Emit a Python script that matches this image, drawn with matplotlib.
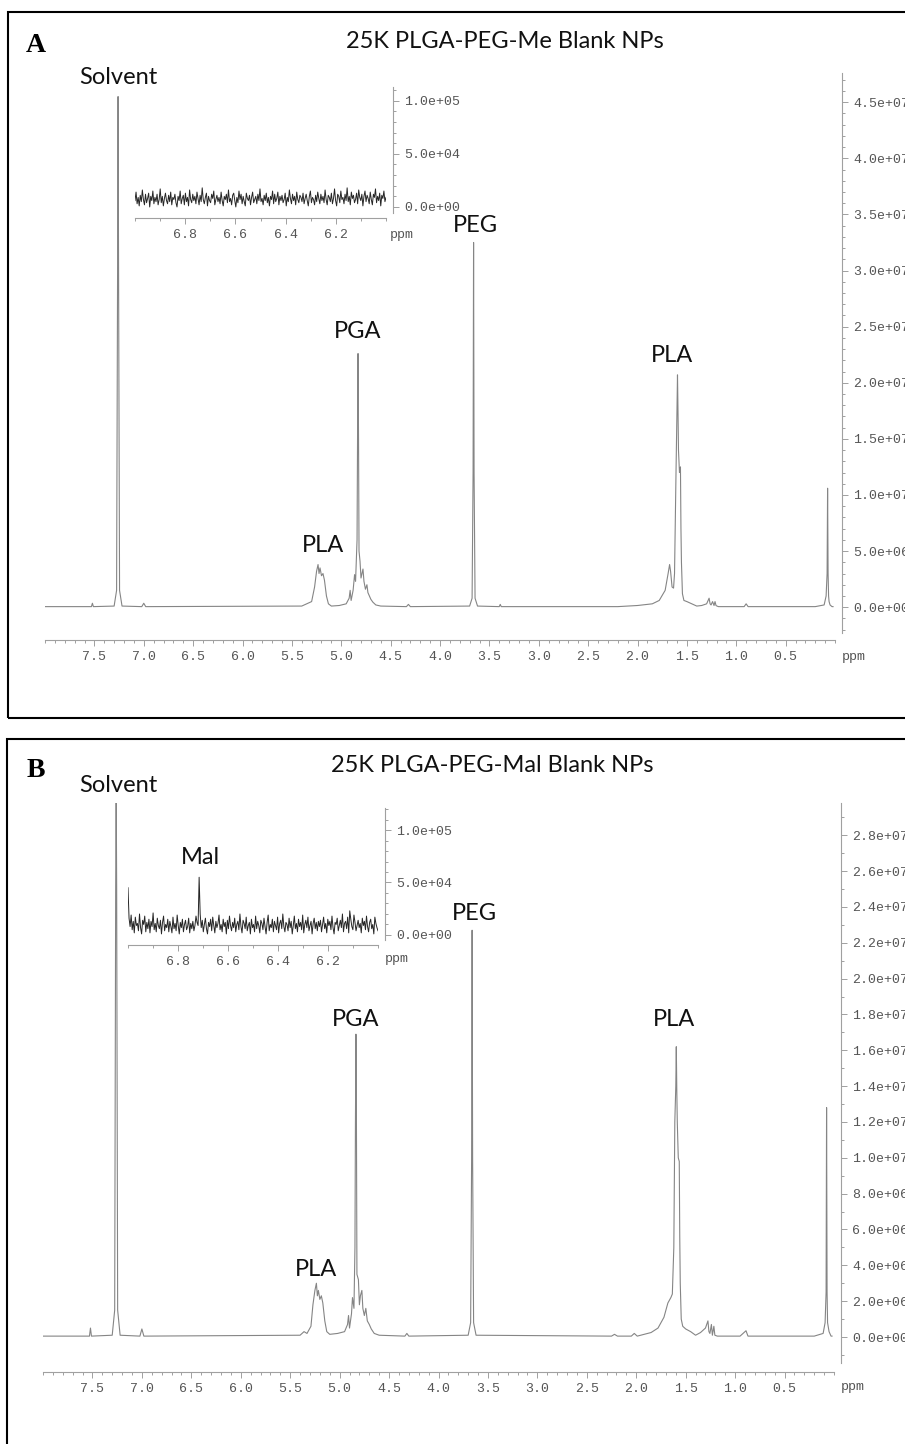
import numpy as np
import matplotlib
matplotlib.use("Agg")
import matplotlib.pyplot as plt
from matplotlib.patches import Rectangle
from matplotlib.ticker import MultipleLocator, FuncFormatter

# Figure size in pixels
W, H = 905, 1444

# ---- Panel A: 25K PLGA-PEG-Me, main spectrum (ppm, intensity in 1e6) ----
shift_a = [8.00, 7.60, 7.53, 7.52, 7.51,
           7.30, 7.275, 7.265, 7.26, 7.255, 7.245, 7.22,
           7.02, 7.00, 6.98,
           5.40, 5.30, 5.27, 5.25, 5.235, 5.225, 5.215, 5.20, 5.185, 5.17, 5.15, 5.13, 5.10,
           5.02, 4.95, 4.92, 4.91, 4.90, 4.88, 4.865, 4.855, 4.84, 4.835, 4.83, 4.825, 4.82,
           4.81, 4.80, 4.79, 4.78, 4.77, 4.755, 4.74, 4.73, 4.72, 4.70, 4.68, 4.65, 4.60,
           4.34, 4.32, 4.30,
           3.70, 3.675, 3.665, 3.66, 3.655, 3.645, 3.62,
           3.40, 3.39, 3.38,
           2.20, 2.00, 1.85, 1.78, 1.72, 1.69, 1.675, 1.665, 1.65, 1.635, 1.625,
           1.61, 1.60, 1.595, 1.59, 1.585, 1.575, 1.57, 1.565, 1.56, 1.555, 1.545, 1.53,
           1.50, 1.45, 1.40, 1.35, 1.30, 1.275, 1.265, 1.255, 1.24, 1.225, 1.215, 1.205,
           1.195, 1.18, 1.10, 0.92, 0.90, 0.88, 0.80, 0.20,
           0.11, 0.09, 0.08, 0.075, 0.07, 0.065, 0.06, 0.05, 0.03, 0.02]
inten_a = [0.05, 0.05, 0.05, 0.35, 0.05,
           0.1, 1.5, 30, 45.5, 30, 1.5, 0.1,
           0.05, 0.35, 0.05,
           0.1, 0.5, 1.8, 3.2, 3.8, 3.0, 3.5, 2.8, 3.0, 2.4, 1.0, 0.3, 0.1,
           0.15, 0.3, 0.8, 1.5, 0.6, 1.5, 2.9, 2.3, 6.0, 15, 22.6, 15, 5.0,
           4.1, 2.6, 3.0, 3.4, 2.3, 1.6, 2.0, 1.3, 1.1, 0.7, 0.45, 0.2, 0.1,
           0.05, 0.25, 0.05,
           0.1, 0.8, 12, 32.5, 12, 0.8, 0.1,
           0.05, 0.25, 0.05,
           0.05, 0.15, 0.3, 0.6, 1.5, 3.0, 3.8, 3.2, 1.8, 1.7, 3.0,
           12, 17.7, 20.7, 17.5, 14, 12, 12.2, 12.5, 7.0, 4.0, 1.2, 0.6,
           0.5, 0.3, 0.1, 0.15, 0.3, 0.8, 0.3, 0.2, 0.5, 0.15, 0.5, 0.15,
           0.1, 0.05, 0.05, 0.05, 0.3, 0.05, 0.05, 0.05,
           0.2, 1.0, 3.0, 10.6, 3.0, 1.0, 0.5, 0.2, 0.05, 0.05]

# ---- Panel B: 25K PLGA-PEG-Mal, main spectrum (ppm, intensity in 1e6) ----
shift_b = [8.00, 7.60, 7.53, 7.52, 7.51,
           7.30, 7.275, 7.265, 7.26, 7.255, 7.245, 7.22,
           7.02, 7.00, 6.98,
           5.40, 5.36, 5.33, 5.29, 5.27, 5.25, 5.235, 5.225, 5.215, 5.20, 5.185, 5.17, 5.15, 5.13, 5.10,
           5.02, 4.95, 4.92, 4.91, 4.90, 4.88, 4.87, 4.855, 4.845, 4.84, 4.835, 4.83, 4.825,
           4.81, 4.80, 4.79, 4.775, 4.765, 4.75, 4.735, 4.72, 4.70, 4.68, 4.65, 4.60,
           4.34, 4.32, 4.30,
           3.70, 3.675, 3.665, 3.66, 3.655, 3.645, 3.62,
           2.25, 2.22, 2.19, 2.05, 2.02, 1.99,
           1.85, 1.78, 1.72, 1.68, 1.65, 1.635, 1.62,
           1.61, 1.60, 1.595, 1.59, 1.585, 1.575, 1.565, 1.56, 1.555, 1.545, 1.53,
           1.50, 1.45, 1.40, 1.35, 1.30, 1.275, 1.265, 1.255, 1.24, 1.23, 1.215, 1.205,
           1.18, 0.95, 0.91, 0.89, 0.87, 0.20,
           0.11, 0.09, 0.08, 0.075, 0.07, 0.065, 0.05, 0.03, 0.02]
inten_b = [0.05, 0.05, 0.05, 0.5, 0.05,
           0.1, 1.5, 25, 31, 25, 1.5, 0.1,
           0.05, 0.45, 0.05,
           0.1, 0.3, 0.2, 0.6, 1.8, 2.6, 3.0, 2.3, 2.6, 2.1, 2.3, 1.9, 0.9, 0.3, 0.15,
           0.2, 0.3, 0.7, 1.2, 0.5, 1.3, 2.2, 1.6, 5.0, 12, 16.9, 12, 3.5,
           3.2, 1.8, 2.3, 2.6, 1.6, 1.2, 1.6, 0.9, 0.7, 0.45, 0.2, 0.1,
           0.05, 0.2, 0.05,
           0.1, 0.8, 10, 22.7, 10, 0.8, 0.1,
           0.05, 0.15, 0.05, 0.05, 0.2, 0.05,
           0.25, 0.5, 1.1, 1.9, 2.2, 2.4, 5.0,
           12, 14, 16.2, 13.8, 12, 10.0, 9.8, 5.6, 3.0, 1.0, 0.6,
           0.45, 0.3, 0.1, 0.25, 0.5, 0.9, 0.3, 0.2, 0.7, 0.1, 0.6, 0.1,
           0.05, 0.05, 0.25, 0.35, 0.05, 0.05,
           0.2, 0.8, 2.5, 12.8, 2.5, 0.8, 0.3, 0.05, 0.05]

# ---- Insets: 7.0 -> 6.0 ppm region (intensity in 1e3) ----
noise_a = [6, 14, 3, 9, 1, 11, 5, 16, 7, 2, 12, 4, 8, 13, 0, 10, 6, 15, 3, 9,
           5, 12, 2, 7, 17, 4, 10, 1, 8, 13, 6, 3, 11, 5, 14, 2, 9, 7, 12, 4,
           0, 10, 6, 15, 3, 8, 11, 2, 13, 5, 9, 1, 16, 7, 4, 12, 6, 10, 3, 14,
           8, 2, 11, 5, 18, 7, 3, 9, 13, 1, 10, 6, 4, 12, 8, 15, 2, 7, 11, 5,
           9, 3, 14, 6, 1, 10, 7, 12, 4, 16, 5, 8, 2, 11, 13, 6, 0, 9, 4, 15,
           7, 12, 3, 10, 5, 1, 13, 8, 6, 11, 2, 9, 14, 4, 7, 10, 3, 12, 6, 17,
           5, 8, 2, 11, 6, 13, 4, 9, 1, 10, 7, 15, 3, 12, 5, 8, 14, 2, 10, 6,
           11, 4, 7, 13, 1, 9, 5, 16, 8, 3, 12, 6, 10, 2, 14, 7, 4, 11, 9, 5,
           13, 3, 8, 12, 6, 1, 10, 15, 4, 9, 7, 2, 11, 5, 14, 8, 3, 12, 6, 10,
           4, 16, 7, 2, 11, 9, 5, 13, 3, 8, 17, 6, 1, 12, 10, 4, 15, 7, 9, 3,
           12, 6, 18, 5, 10, 2, 14, 8, 11, 4, 7, 13, 3, 16, 9, 6, 12, 1, 10, 15,
           5, 11, 8, 3, 14, 7, 2, 12, 9, 17, 4, 10, 6, 13, 1, 11, 8, 15, 5, 9]
noise_b = [45, 16, 8, 19, 5, 13, 2, 17, 9, 11, 4, 20, 7, 1, 14, 10, 18, 3, 12, 6,
           15, 2, 13, 8, 21, 5, 11, 3, 16, 9, 6, 14, 1, 12, 18, 4, 10, 7, 15, 3,
           13, 8, 2, 17, 6, 11, 4, 19, 9, 1, 12, 7, 15, 3, 10, 14, 5, 8, 16, 2,
           11, 6, 13, 4, 9, 18, 12, 9, 55, 20, 7, 14, 3, 10, 16, 6, 1, 12, 8, 15,
           4, 17, 9, 2, 13, 7, 11, 19, 5, 10, 3, 15, 8, 12, 1, 14, 6, 18, 9, 4,
           12, 7, 16, 3, 10, 13, 5, 20, 8, 2, 14, 11, 6, 17, 4, 9, 12, 1, 15, 7,
           10, 3, 18, 6, 13, 9, 2, 14, 11, 5, 16, 8, 1, 12, 19, 4, 10, 7, 15, 3,
           13, 9, 5, 17, 2, 11, 14, 6, 20, 8, 3, 12, 10, 4, 16, 7, 13, 1, 9, 18,
           6, 11, 3, 15, 8, 12, 5, 19, 2, 10, 14, 7, 17, 4, 9, 13, 1, 11, 16, 6,
           12, 4, 13, 8, 14, 3, 10, 17, 6, 11, 2, 15, 9, 13, 5, 18, 7, 1, 12, 10,
           16, 4, 9, 14, 7, 20, 3, 11, 13, 6, 17, 2, 23, 15, 8, 5, 19, 12, 4, 9,
           14, 7, 11, 2, 16, 9, 13, 5, 18, 8, 3, 12, 15, 6, 10, 1, 17, 11, 7, 4]

main_ticks = [7.5, 7.0, 6.5, 6.0, 5.5, 5.0, 4.5, 4.0, 3.5, 3.0, 2.5, 2.0, 1.5, 1.0, 0.5]
inset_ticks = [6.8, 6.6, 6.4, 6.2]

MONO = "Liberation Mono"
SANS = "Lato"
TICKC = "#555555"
SPINEC = "#a0a0a0"


def px_rect(x0, y_top, x1, y_bot):
    return [x0 / W, 1 - y_bot / H, (x1 - x0) / W, (y_bot - y_top) / H]


def style_axes(ax, x_out, y_out):
    for s in ["left", "top"]:
        ax.spines[s].set_visible(False)
    for s in ["bottom", "right"]:
        ax.spines[s].set_color(SPINEC)
        ax.spines[s].set_linewidth(0.8)
    ax.spines["bottom"].set_position(("outward", x_out * 0.72))
    ax.spines["right"].set_position(("outward", y_out * 0.72))
    ax.yaxis.tick_right()
    ax.tick_params(which="both", direction="out", color=SPINEC, width=0.7,
                   labelcolor=TICKC, labelsize=9.5)
    ax.tick_params(which="major", length=4.5, pad=3.5)
    ax.tick_params(which="minor", length=2.2)
    for lab in ax.get_xticklabels() + ax.get_yticklabels():
        lab.set_family(MONO)
    ax.yaxis.set_major_formatter(FuncFormatter(lambda v, p: f"{v:.1e}"))
    ax.patch.set_alpha(0)


fig = plt.figure(figsize=(W / 100, H / 100), dpi=100)

# Panel borders
for (x0, yt, x1, yb) in [(8, 12, 930, 718), (7, 739, 930, 1460)]:
    fig.add_artist(Rectangle((x0 / W, 1 - yb / H), (x1 - x0) / W, (yb - yt) / H,
                             transform=fig.transFigure, fill=False,
                             edgecolor="black", linewidth=1.5, clip_on=False))

panels = [
    dict(shift=shift_a, inten=inten_a, rect=(45, 73, 835, 633), ylim=(-2.3e6, 47.6e6),
         ymajor=5e6, xout=7, yout=7,
         inset=(135, 87, 386, 213), iylim=(-5.7e3, 113e3), noise=noise_a,
         ppm_main=(842, 657), ppm_inset=(390, 235)),
    dict(shift=shift_b, inten=inten_b, rect=(43, 803, 834, 1363), ylim=(-1.45e6, 29.8e6),
         ymajor=2e6, xout=9, yout=7,
         inset=(128, 808, 378, 940), iylim=(-4.8e3, 121e3), noise=noise_b,
         ppm_main=(841, 1387), ppm_inset=(385, 959)),
]

for p in panels:
    ax = fig.add_axes(px_rect(*p["rect"]))
    ax.plot(p["shift"], np.array(p["inten"]) * 1e6, color="#858585", lw=0.8)
    ax.set_xlim(8.0, 0.0)
    ax.set_ylim(*p["ylim"])
    ax.set_xticks(main_ticks)
    ax.set_xticklabels([f"{t:.1f}" for t in main_ticks])
    ax.xaxis.set_minor_locator(MultipleLocator(0.1))
    ax.yaxis.set_major_locator(MultipleLocator(p["ymajor"]))
    ax.yaxis.set_minor_locator(MultipleLocator(1e6))
    style_axes(ax, p["xout"], p["yout"])
    x, y = p["ppm_main"]
    fig.text(x / W, 1 - y / H, "ppm", family=MONO, size=9.5, color=TICKC,
             ha="left", va="center")

    # inset: evenly spaced ppm samples across 7.0 -> 6.0
    ix = np.linspace(7.0, 6.0, len(p["noise"]))
    ins = fig.add_axes(px_rect(*p["inset"]))
    ins.plot(ix, np.array(p["noise"]) * 1e3, color="#262626", lw=0.7)
    ins.set_xlim(7.0, 6.0)
    ins.set_ylim(*p["iylim"])
    ins.set_xticks(inset_ticks)
    ins.set_xticklabels([f"{t:.1f}" for t in inset_ticks])
    ins.xaxis.set_minor_locator(MultipleLocator(0.1))
    ins.yaxis.set_major_locator(MultipleLocator(5e4))
    ins.yaxis.set_minor_locator(MultipleLocator(1e4))
    style_axes(ins, 5, 7)
    x, y = p["ppm_inset"]
    fig.text(x / W, 1 - y / H, "ppm", family=MONO, size=9.5, color=TICKC,
             ha="left", va="center")

# Text annotations (pixel centres)
labels = [
    ("25K PLGA-PEG-Me Blank NPs", 505, 42, 17),
    ("Solvent", 118, 77, 17),
    ("PEG", 475, 226, 17),
    ("PGA", 358, 332, 17),
    ("PLA", 323, 545, 17),
    ("PLA", 672, 355, 17),
    ("25K PLGA-PEG-Mal Blank NPs", 492, 765, 17),
    ("Solvent", 118, 785, 17),
    ("Mal", 200, 858, 17),
    ("PEG", 474, 914, 17),
    ("PGA", 356, 1020, 17),
    ("PLA", 316, 1270, 17),
    ("PLA", 674, 1020, 17),
]
for txt, x, y, s in labels:
    fig.text(x / W, 1 - y / H, txt, family=SANS, size=s, color="#111111",
             ha="center", va="center")

for txt, x, y in [("A", 36, 46), ("B", 36, 771)]:
    fig.text(x / W, 1 - y / H, txt, family="Liberation Serif", weight="bold",
             size=20, ha="center", va="center")

fig.savefig("out.png", dpi=100)
